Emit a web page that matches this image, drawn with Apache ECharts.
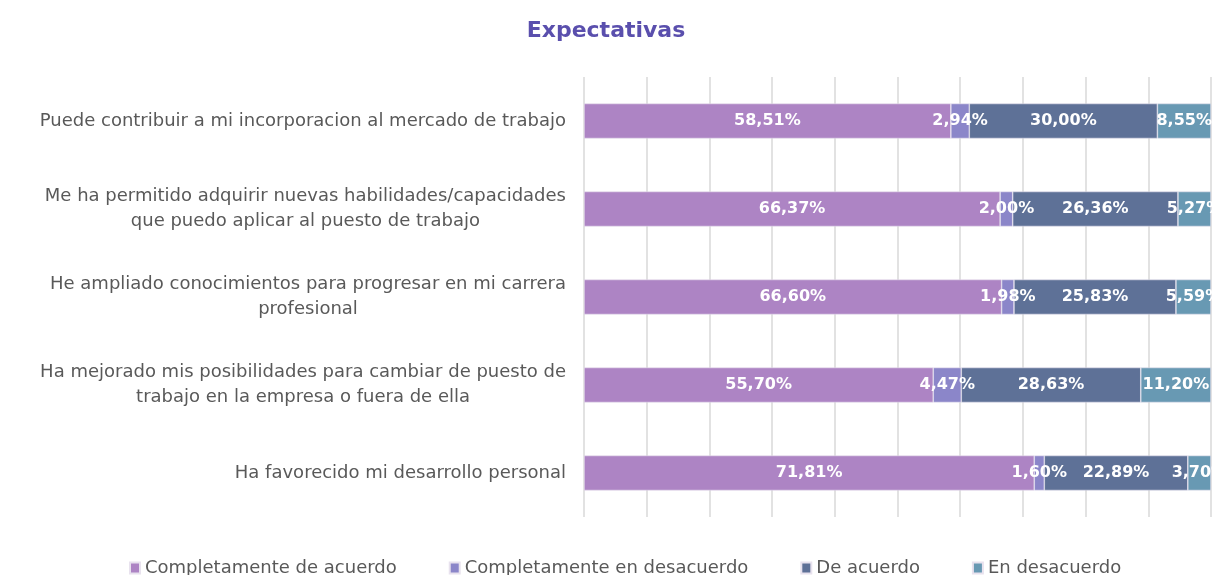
<!DOCTYPE html>
<html>
<head>
<meta charset="utf-8">
<script src="https://cdn.jsdelivr.net/npm/echarts@6/dist/echarts.min.js"></script>
<style>
  html, body { margin: 0; padding: 0; background: #fff; }
  #chart { width: 1212px; height: 575px; }
</style>
</head>
<body>
<div id="chart"></div>
<script>
// categorias (de arriba a abajo)
var categories = [
  "Puede contribuir a mi incorporacion al mercado de trabajo",
  "Me ha permitido adquirir nuevas habilidades/capacidades\nque puedo aplicar al puesto de trabajo",
  "He ampliado conocimientos para progresar en mi carrera\nprofesional",
  "Ha mejorado mis posibilidades para cambiar de puesto de\ntrabajo en la empresa o fuera de ella",
  "Ha favorecido mi desarrollo personal"
];
var seriesNames = ["Completamente de acuerdo", "Completamente en desacuerdo", "De acuerdo", "En desacuerdo"];
var completamenteDeAcuerdo = [58.51, 66.37, 66.60, 55.70, 71.81];
var completamenteEnDesacuerdo = [2.94, 2.00, 1.98, 4.47, 1.60];
var deAcuerdo = [30.00, 26.36, 25.83, 28.63, 22.89];
var enDesacuerdo = [8.55, 5.27, 5.59, 11.20, 3.70];

var colors = ["#ad84c4", "#8b86c9", "#5e7197", "#6899b3"];
var values = [completamenteDeAcuerdo, completamenteEnDesacuerdo, deAcuerdo, enDesacuerdo];
var FONT = "DejaVu Sans";

var myChart = echarts.init(document.getElementById("chart"));

var series = seriesNames.map(function (name, i) {
  return {
    name: name,
    type: "bar",
    stack: "total",
    barWidth: 35,
    data: values[i],
    itemStyle: { color: colors[i], borderColor: "#e8e2ee", borderWidth: 0.6 },
    label: {
      show: true,
      position: "inside",
      color: "#fff",
      fontSize: 16,
      fontWeight: "bold",
      fontFamily: FONT,
      formatter: function (p) {
        return p.value.toFixed(2).replace(".", ",") + "%";
      }
    }
  };
});

var option = {
  animation: false,
  color: colors,
  title: {
    text: "Expectativas",
    left: "center",
    top: 15,
    textStyle: { color: "#5a4fad", fontSize: 22, fontWeight: "bold", fontFamily: FONT }
  },
  legend: {
    data: seriesNames,
    top: 554,
    left: 124,
    icon: "rect",
    itemWidth: 10,
    itemHeight: 11,
    itemGap: 52,
    textStyle: { color: "#595959", fontSize: 18, fontFamily: FONT }
  },
  grid: { left: 584, right: 1, top: 77, height: 440, containLabel: false },
  xAxis: {
    type: "value",
    min: 0,
    max: 100,
    interval: 10,
    axisLabel: { show: false },
    axisLine: { show: false },
    axisTick: { show: false },
    splitLine: { lineStyle: { color: "#d9d9d9", width: 1.5 } }
  },
  yAxis: {
    type: "category",
    inverse: true,
    data: categories,
    axisLine: { show: false },
    axisTick: { show: false },
    axisLabel: {
      margin: 18,
      color: "#595959",
      fontSize: 18,
      fontFamily: FONT,
      lineHeight: 25,
      formatter: function (v) {
        return v.split("\n").map(function (l) { return "{c|" + l + "}"; }).join("\n");
      },
      rich: { c: { align: "center", color: "#595959", fontSize: 18, fontFamily: FONT, lineHeight: 25 } }
    }
  },
  series: series
};

myChart.setOption(option);
</script>
</body>
</html>
